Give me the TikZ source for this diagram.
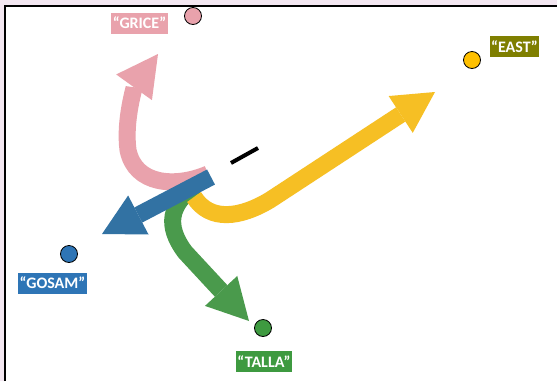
\documentclass[tikz,border=0pt]{standalone}
\usepackage{fontspec}
\setmainfont{Carlito}
\usetikzlibrary{arrows.meta}
\definecolor{bgpink}{HTML}{F3E7F1}
\definecolor{gricepink}{HTML}{E9A2AC}
\definecolor{eastolive}{HTML}{7F7F00}
\definecolor{gosamblue}{HTML}{2E75B6}
\definecolor{tallagreen}{HTML}{3E9A40}
\definecolor{eastyellow}{HTML}{F6BF24}
\definecolor{dotyellow}{HTML}{FFC000}
\definecolor{arrowblue}{HTML}{3272A3}
\definecolor{arrowgreen}{HTML}{4A9A4C}
\tikzset{
  place/.style={circle, draw=black, line width=0.8pt, fill=#1, minimum size=17pt, inner sep=0pt},
  tag/.style={fill=#1, text=white, font=\bfseries\fontsize{16}{16}\selectfont, inner sep=1.5pt, minimum height=21pt},
  bigarrow/.style={line width=17pt, draw=#1, -{Triangle[length=41pt,width=44pt,line width=0pt]}}
}
\begin{document}
\begin{tikzpicture}[x=1pt,y=-1pt]
            \useasboundingbox (0,0) rectangle (557,381);
            \fill[bgpink] (0,0) rectangle (557,381);
            \fill[white] (5,6) rectangle (557,381);
            \draw[line width=2pt] (4.5,381) -- (4.5,5.5) -- (557,5.5);
            \node[place=gricepink] (gricedot) at (193,16) {};
            \node[place=dotyellow] (eastdot) at (472,60) {};
            \node[place=gosamblue] (gosamdot) at (69,254) {};
            \node[place=tallagreen] (talladot) at (263,328) {};
            \node[tag=gricepink] (grice) at (139.5,23) {“GRICE”};
            \node[tag=eastolive] (east) at (514.5,46.5) {“EAST”};
            \node[tag=gosamblue] (gosam) at (52.5,283) {“GOSAM”};
            \node[tag=tallagreen] (talla) at (264,361.5) {“TALLA”};
            \coordinate (centre) at (211,177);
            \coordinate (gricetip) at (158,54);
            \coordinate (easttip) at (435,92);
            \coordinate (gosamtip) at (102,234);
            \coordinate (tallatip) at (249,321);
            \draw[bigarrow=arrowgreen] (195,186) .. controls (170,205) and (165,225) .. (185,252) -- (tallatip);
            \draw[bigarrow=eastyellow] (194,197) .. controls (210,222) and (240,218) .. (270,200) -- (easttip);
            \draw[bigarrow=gricepink] (208,174) .. controls (175,188) and (135,185) .. (128,150) .. controls (124,120) and (135,86) .. (gricetip);
            \draw[bigarrow=arrowblue] (centre) -- (gosamtip);
            \draw[line width=4pt] (231,163) -- (258,148);
      \end{tikzpicture}
\end{document}
